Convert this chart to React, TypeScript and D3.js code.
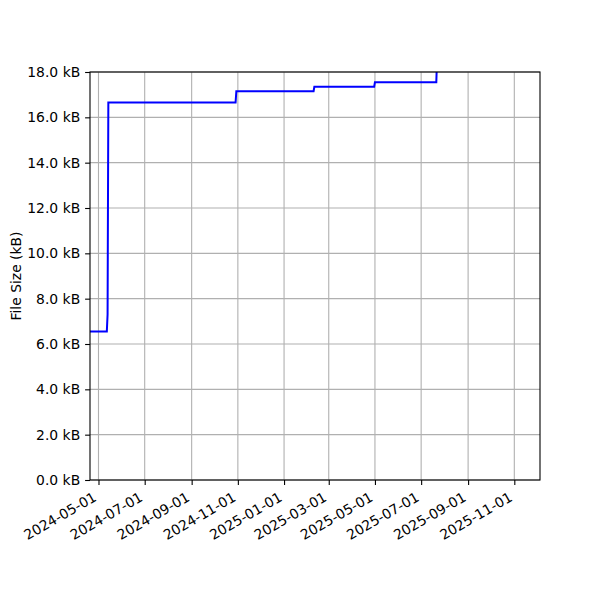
import React from 'react';
import * as d3 from 'd3';

// file size history (dates of each size change, sizes in kB)
const dates: string[] = [
  '2024-04-10', '2024-05-12', '2024-05-13', '2024-05-14',
  '2024-10-29', '2024-10-30',
  '2025-02-09', '2025-02-10',
  '2025-04-30', '2025-05-01',
  '2025-07-21', '2025-07-22', '2025-08-30'
];
const sizes: number[] = [
  6.55, 6.55, 7.3, 16.65,
  16.65, 17.15,
  17.15, 17.35,
  17.35, 17.55,
  17.55, 18.6, 18.6
];
const xTicks: string[] = [
  '2024-05-01', '2024-07-01', '2024-09-01', '2024-11-01', '2025-01-01',
  '2025-03-01', '2025-05-01', '2025-07-01', '2025-09-01', '2025-11-01'
];
const yTicks: number[] = [0, 2, 4, 6, 8, 10, 12, 14, 16, 18];
const xDomain: string[] = ['2024-04-19T19:00:00Z', '2025-12-04T22:00:00Z'];

const parse = (s: string) => new Date(s.length === 10 ? s + 'T00:00:00Z' : s);

const App: React.FC = () => {
  const svgRef = React.useRef<SVGSVGElement>(null);
  const width = 600;
  const height = 600;
  const margin = { top: 72, right: 60, bottom: 120, left: 90 };
  const innerWidth = width - margin.left - margin.right;
  const innerHeight = height - margin.top - margin.bottom;

  React.useEffect(() => {
    if (!svgRef.current) return;
    const svg = d3.select(svgRef.current);
    svg.selectAll('*').remove();

    const font = '"DejaVu Sans", sans-serif';
    const fontSize = 13.9;

    const x = d3.scaleUtc()
      .domain(xDomain.map(parse))
      .range([0, innerWidth]);
    const y = d3.scaleLinear()
      .domain([0, 18])
      .range([innerHeight, 0]);

    svg.append('defs').append('clipPath')
      .attr('id', 'plot-clip')
      .append('rect')
      .attr('width', innerWidth)
      .attr('height', innerHeight);

    const g = svg.append('g')
      .attr('transform', `translate(${margin.left},${margin.top})`);

    // grid
    g.append('g')
      .selectAll('line')
      .data(xTicks)
      .enter().append('line')
      .attr('x1', d => x(parse(d)))
      .attr('x2', d => x(parse(d)))
      .attr('y1', 0)
      .attr('y2', innerHeight)
      .attr('stroke', '#b0b0b0')
      .attr('stroke-width', 1.1);
    g.append('g')
      .selectAll('line')
      .data(yTicks)
      .enter().append('line')
      .attr('x1', 0)
      .attr('x2', innerWidth)
      .attr('y1', d => y(d))
      .attr('y2', d => y(d))
      .attr('stroke', '#b0b0b0')
      .attr('stroke-width', 1.1);

    // data line
    const line = d3.line<number>()
      .x((_, i) => x(parse(dates[i])))
      .y(d => y(d));
    g.append('path')
      .datum(sizes)
      .attr('clip-path', 'url(#plot-clip)')
      .attr('fill', 'none')
      .attr('stroke', '#0000ff')
      .attr('stroke-width', 2)
      .attr('d', line);

    // spines
    g.append('rect')
      .attr('width', innerWidth)
      .attr('height', innerHeight)
      .attr('fill', 'none')
      .attr('stroke', '#000')
      .attr('stroke-width', 1.1);

    // y axis
    const yAxis = g.append('g')
      .call(d3.axisLeft(y).tickValues(yTicks).tickSize(4.9).tickPadding(4.9)
        .tickFormat(d => `${(+d).toFixed(1)} kB`));
    yAxis.select('.domain').remove();
    yAxis.selectAll('line').attr('stroke-width', 1.1);
    yAxis.selectAll('text')
      .attr('font-family', font)
      .attr('font-size', fontSize)
      .attr('fill', '#000');

    // x axis
    const xAxis = g.append('g')
      .attr('transform', `translate(0,${innerHeight})`)
      .call(d3.axisBottom(x).tickValues(xTicks.map(parse)).tickSize(4.9)
        .tickFormat(d => d3.utcFormat('%Y-%m-%d')(d as Date)));
    xAxis.select('.domain').remove();
    xAxis.selectAll('line').attr('stroke-width', 1.1);
    xAxis.selectAll('text')
      .attr('font-family', font)
      .attr('font-size', fontSize)
      .attr('fill', '#000')
      .attr('text-anchor', 'end')
      .attr('dy', null)
      .attr('y', null)
      .attr('transform', 'translate(-1.5,20) rotate(-30)');

    // y label
    g.append('text')
      .attr('transform', `translate(${-margin.left + 20.5},${innerHeight / 2}) rotate(-90)`)
      .attr('text-anchor', 'middle')
      .attr('font-family', font)
      .attr('font-size', fontSize)
      .attr('fill', '#000')
      .text('File Size (kB)');
  }, [innerWidth, innerHeight]);

  return (
    <svg
      ref={svgRef}
      width={width}
      height={height}
      style={{ position: 'absolute', left: 0, top: 0, background: '#fff' }}
    />
  );
};

export default App;
